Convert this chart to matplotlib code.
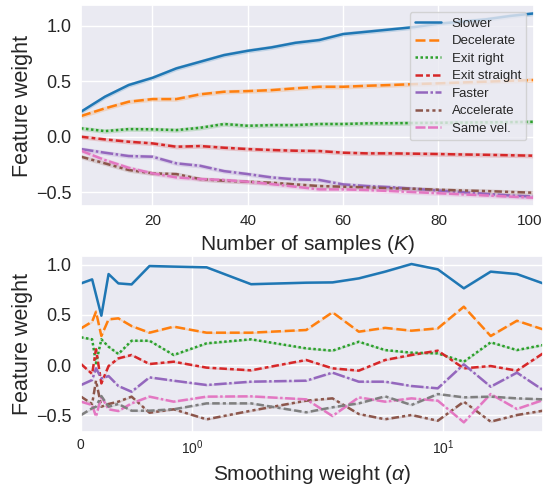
import numpy as np
import matplotlib
matplotlib.use("Agg")
import matplotlib.pyplot as plt
import matplotlib.transforms as mtransforms
import seaborn as sns

# ---------------- data ----------------
labels = ["Slower", "Decelerate", "Exit right", "Exit straight", "Faster", "Accelerate", "Same vel."]

samples_k = [5, 10, 15, 20, 25, 30, 35, 40, 45, 50, 55, 60, 65, 70, 75, 80, 85, 90, 95, 100]
top_slower = [0.226, 0.361, 0.467, 0.532, 0.617, 0.677, 0.737, 0.776, 0.807, 0.848, 0.873, 0.927, 0.948, 0.969, 0.99, 1.02, 1.04, 1.06, 1.09, 1.113]
top_decel = [0.187, 0.256, 0.316, 0.340, 0.340, 0.383, 0.406, 0.412, 0.421, 0.437, 0.451, 0.451, 0.46, 0.467, 0.475, 0.482, 0.49, 0.497, 0.505, 0.512]
top_exitr = [0.076, 0.051, 0.069, 0.067, 0.060, 0.081, 0.115, 0.099, 0.105, 0.105, 0.115, 0.115, 0.121, 0.122, 0.124, 0.126, 0.128, 0.13, 0.132, 0.135]
top_exits = [0.0, -0.024, -0.045, -0.060, -0.090, -0.084, -0.099, -0.111, -0.120, -0.126, -0.129, -0.144, -0.150, -0.150, -0.153, -0.156, -0.160, -0.163, -0.167, -0.171]
top_faster = [-0.111, -0.144, -0.174, -0.180, -0.240, -0.262, -0.310, -0.337, -0.367, -0.385, -0.390, -0.430, -0.445, -0.455, -0.47, -0.485, -0.50, -0.515, -0.53, -0.54]
top_accel = [-0.180, -0.240, -0.300, -0.330, -0.337, -0.382, -0.397, -0.406, -0.415, -0.430, -0.445, -0.451, -0.457, -0.465, -0.47, -0.478, -0.485, -0.49, -0.498, -0.505]
top_same = [-0.126, -0.210, -0.280, -0.330, -0.367, -0.382, -0.390, -0.406, -0.427, -0.451, -0.475, -0.475, -0.481, -0.49, -0.50, -0.51, -0.52, -0.53, -0.54, -0.55]

alpha_vals = [0, 0.1, 0.135, 0.183, 0.248, 0.336, 0.455, 0.616, 0.834, 1.13, 1.53, 2.07, 2.8, 3.79, 5.13, 6.95, 9.41, 12.7, 17.3, 23.4, 31.6]
bot_slower = [0.813, 0.853, 0.70, 0.491, 0.906, 0.813, 0.803, 0.986, 0.98, 0.973, 0.805, 0.82, 0.823, 0.863, 0.93, 1.006, 0.953, 0.764, 0.93, 0.906, 0.813]
bot_decel = [0.365, 0.432, 0.531, 0.289, 0.455, 0.465, 0.388, 0.322, 0.382, 0.322, 0.322, 0.349, 0.525, 0.332, 0.37, 0.342, 0.365, 0.581, 0.289, 0.441, 0.355]
bot_exitr = [0.276, 0.256, 0.017, 0.256, 0.182, 0.110, 0.242, 0.242, 0.100, 0.216, 0.256, 0.166, 0.143, 0.232, 0.149, 0.123, 0.116, 0.033, 0.226, 0.149, 0.199]
bot_exits = [0.010, -0.089, 0.157, -0.183, -0.010, 0.066, 0.100, 0.010, 0.033, -0.026, -0.053, 0.050, -0.033, -0.056, 0.05, 0.100, 0.143, -0.033, -0.010, -0.056, 0.116]
bot_faster = [-0.199, -0.149, -0.033, -0.133, -0.110, -0.209, -0.266, -0.123, -0.156, -0.199, -0.166, -0.156, -0.076, -0.166, -0.166, -0.209, -0.232, 0.007, -0.216, -0.076, -0.249]
bot_accel = [-0.315, -0.388, -0.156, -0.415, -0.388, -0.365, -0.315, -0.475, -0.441, -0.541, -0.455, -0.355, -0.332, -0.488, -0.54, -0.498, -0.555, -0.365, -0.564, -0.498, -0.455]
bot_same = [-0.365, -0.398, -0.514, -0.315, -0.441, -0.458, -0.382, -0.315, -0.365, -0.315, -0.312, -0.342, -0.508, -0.322, -0.365, -0.332, -0.355, -0.571, -0.289, -0.438, -0.349]
bot_other = [-0.498, -0.431, -0.415, -0.309, -0.415, -0.388, -0.455, -0.455, -0.441, -0.382, -0.382, -0.471, -0.421, -0.382, -0.312, -0.398, -0.289, -0.322, -0.315, -0.332, -0.342]

top_series = [top_slower, top_decel, top_exitr, top_exits, top_faster, top_accel, top_same]
bot_series = [bot_slower, bot_decel, bot_exitr, bot_exits, bot_faster, bot_accel, bot_same, bot_other]

# ---------------- style ----------------
sns.set_theme(style="darkgrid")
plt.rcParams["font.family"] = ["Liberation Sans", "DejaVu Sans"]
plt.rcParams["mathtext.fontset"] = "custom"
plt.rcParams["mathtext.rm"] = "Liberation Sans"
plt.rcParams["mathtext.it"] = "Liberation Sans:italic"

colors = sns.color_palette("tab10", 8)
dashes = [(None, None), (4, 1.5), (1, 1), (3, 1.25, 1.5, 1.25), (5, 1, 1, 1),
          (3, 1.25, 1.25, 1.25, 1.25, 1.25), (4, 1, 4, 1, 1, 1), (3, 1.25, 3, 1.25, 1.25, 1.25)]
lw = 1.8
band_top = 0.02
band_bot = 0.01

fig = plt.figure(figsize=(5.43, 4.87), dpi=100)
ax1 = fig.add_axes([0.1492, 0.577, 0.8337, 0.4127])
ax2 = fig.add_axes([0.1492, 0.1136, 0.8508, 0.3608])


def draw(ax, xs, ys, i, band, label=None):
    y = np.asarray(ys)
    ax.fill_between(xs, y - band, y + band, color=colors[i], alpha=0.2, linewidth=0)
    line, = ax.plot(xs, y, color=colors[i], lw=lw, label=label)
    if dashes[i][0] is not None:
        line.set_dashes(dashes[i])
    return line


for i, ys in enumerate(top_series):
    draw(ax1, samples_k, ys, i, band_top, labels[i])
for i, ys in enumerate(bot_series):
    draw(ax2, alpha_vals, ys, i, band_bot)

ax1.set_xlim(5, 100)
ax1.set_ylim(-0.625, 1.189)
ax1.set_xticks([20, 40, 60, 80, 100])
ax1.set_yticks([-0.5, 0.0, 0.5, 1.0])
ax1.tick_params(axis="x", labelsize=11, length=0, pad=5.5)
ax1.tick_params(axis="y", labelsize=13, length=0, pad=7)
ax1.set_xlabel("Number of samples ($K$)", fontsize=15, labelpad=3.5)
ax1.set_ylabel("Feature weight", fontsize=15.5, labelpad=1.8)
leg = ax1.legend(loc="upper right", fontsize=9.5, frameon=True, borderaxespad=0.55,
                 handlelength=2.0, labelspacing=0.4, handletextpad=0.8)

# keep the last top tick label inside the figure
fig.canvas.draw()
last = ax1.get_xticklabels()[-1]
last.set_transform(last.get_transform() + mtransforms.ScaledTranslation(-4 / 100, 0, fig.dpi_scale_trans))

ax2.set_xscale("symlog", linthresh=2, linscale=1)
ax2.set_xlim(0, 31.6)
ax2.set_ylim(-0.664, 1.086)
ax2.set_xticks([0, 1, 10])
ax2.xaxis.set_minor_locator(matplotlib.ticker.NullLocator())
ax2.set_yticks([-0.5, 0.0, 0.5, 1.0])
ax2.tick_params(axis="x", labelsize=10, length=0, pad=4.5)
ax2.tick_params(axis="y", labelsize=13, length=0, pad=7)
ax2.set_xlabel("Smoothing weight ($\\alpha$)", fontsize=15, labelpad=4.5)
ax2.set_ylabel("Feature weight", fontsize=15.5, labelpad=1.8)

fig.savefig("out.png", dpi=100)
